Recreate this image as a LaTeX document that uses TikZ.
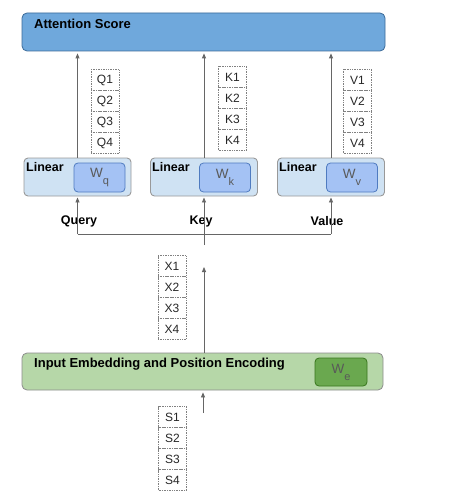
\documentclass[tikz,border=0pt]{standalone}
\usepackage{fontspec}
\setmainfont{Liberation Sans}
\usetikzlibrary{arrows.meta,positioning,calc}
\definecolor{attnfill}{HTML}{6FA8DC}\definecolor{attndraw}{HTML}{3B6A99}
\definecolor{linfill}{HTML}{CFE2F3}\definecolor{wfill}{HTML}{A4C2F4}\definecolor{wdraw}{HTML}{4F7BC0}
\definecolor{embfill}{HTML}{B6D7A8}\definecolor{wefill}{HTML}{6AA84F}\definecolor{wedraw}{HTML}{38761D}
\definecolor{arrgray}{HTML}{666666}
\newcommand{\wsub}[1]{\fontsize{13.5}{15}\selectfont W\raisebox{-7pt}{\fontsize{11}{11}\selectfont #1}}

\begin{document}
\begin{tikzpicture}[x=1pt,y=-1pt,>={Triangle[length=5pt,width=4pt]},font=\fontsize{12}{14}\selectfont]
\useasboundingbox (0,0) rectangle (468,497);
\tikzstyle{big}=[draw,rounded corners=5pt,line width=0.8pt,inner sep=0pt]
\tikzstyle{lin}=[draw=gray!80,fill=linfill,rounded corners=4pt,line width=0.9pt,minimum width=107pt,minimum height=38pt,inner sep=0pt]
\tikzstyle{wbox}=[draw=wdraw,fill=wfill,rounded corners=4pt,line width=0.8pt,minimum width=51pt,minimum height=29pt,inner sep=0pt,text=black!65]
\tikzstyle{cell}=[draw=gray,densely dotted,line width=0.7pt,minimum width=28pt,minimum height=21pt,inner sep=0pt,text=black!85]
\tikzstyle{lbl}=[font=\fontsize{12.5}{14}\selectfont\bfseries,inner sep=0pt]
\tikzstyle{head}=[font=\fontsize{13}{15}\selectfont\bfseries,inner sep=0pt,anchor=north west]
\tikzstyle{arr}=[->,draw=arrgray,line width=0.8pt]
% top score box
\node[big,draw=attndraw,fill=attnfill,minimum width=363pt,minimum height=38pt] (attn) at (203.5,32) {};
\node[head] (attnlbl) at (34,18.5) {Attention Score};
% linear projections
\node[lin] (linq) at (77.5,177) {}; \node[lin] (link) at (204,177) {}; \node[lin] (linv) at (331,177) {};
\node[wbox] (wq) at (99.5,177.5) {\wsub{q}}; \node[wbox] (wk) at (225,177.5) {\wsub{k}}; \node[wbox] (wv) at (352,177.5) {\wsub{v}};
\node[lbl,anchor=north west] at (26,162) {Linear}; \node[lbl,anchor=north west] at (152,162) {Linear}; \node[lbl,anchor=north west] at (279,162) {Linear};
\foreach \i in {1,...,4} {\node[cell] (q\i) at (105,59+21*\i) {Q\i}; \node[cell] (k\i) at (232.5,56+21*\i) {K\i}; \node[cell] (v\i) at (357.5,59+21*\i) {V\i};}
\draw[arr,shorten >=2pt] (linq.north) -- (linq.north |- attn.south); \draw[arr,shorten >=2pt] (link.north) -- (link.north |- attn.south); \draw[arr,shorten >=2pt] (linv.north) -- (linv.north |- attn.south);
% query / key / value split
\node[lbl] (query) at (79,221) {Query}; \node[lbl] (key) at (201,221) {Key}; \node[lbl] (value) at (327,221) {Value};
\coordinate (bus) at (204,234); \coordinate (keytail) at (204,245);
\draw[draw=arrgray,line width=0.8pt] (linq.south |- bus) -- (linv.south |- bus);
\draw[arr,shorten >=1pt] (linq.south |- bus) -- (linq.south); \draw[arr,shorten >=1pt] (keytail) -- (link.south); \draw[arr,shorten >=1pt] (linv.south |- bus) -- (linv.south);
% embedding
\node[big,draw=gray!90,fill=embfill,minimum width=361pt,minimum height=37pt] (emb) at (202.5,371.5) {};
\node[head] (emblbl) at (34,358) {Input Embedding and Position Encoding};
\node[wbox,draw=wedraw,fill=wefill,minimum width=52pt,minimum height=28pt] (we) at (341,372) {\wsub{e}};
\foreach \i in {1,...,4} {\node[cell] (x\i) at (172,245+21*\i) {X\i}; \node[cell] (s\i) at (172.5,396+21*\i) {S\i};}
\coordinate (xtip) at (204,267); \coordinate (stail) at (203,413);
\draw[arr] (emb.north -| xtip) -- (xtip); \draw[arr,shorten >=2pt] (stail) -- (stail |- emb.south);
\end{tikzpicture}
\end{document}
